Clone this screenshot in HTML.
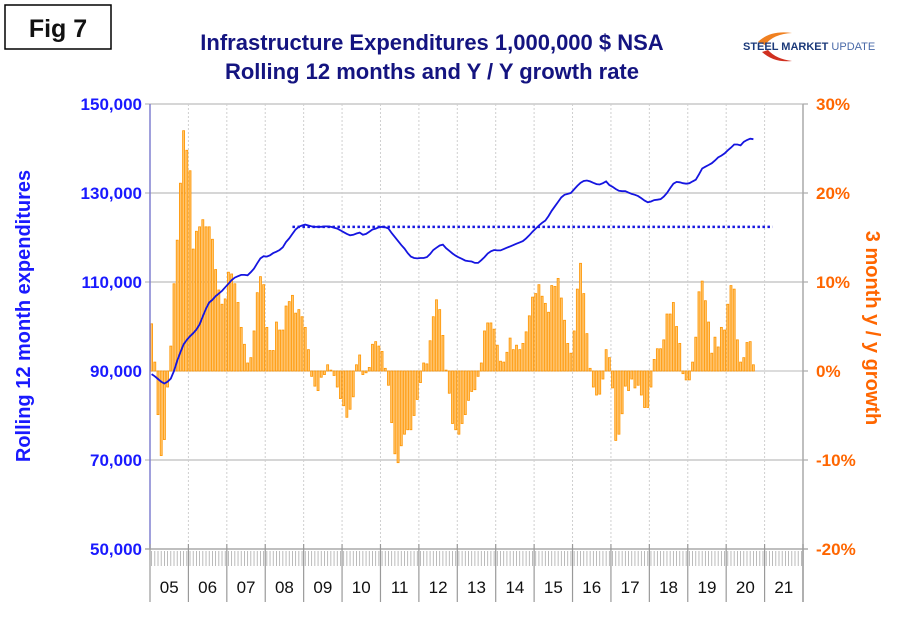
<!DOCTYPE html>
<html><head><meta charset="utf-8"><style>
body{margin:0;background:#fff;}
svg{display:block;font-family:"Liberation Sans",Arial,sans-serif;}
</style></head><body>
<svg id="chart" width="910" height="622" viewBox="0 0 910 622">
<rect x="5" y="5" width="106" height="44" fill="#fff" stroke="#000" stroke-width="1.5"/>
<text x="58" y="37" text-anchor="middle" font-size="25" font-weight="bold" fill="#111">Fig 7</text>
<text x="432" y="50" text-anchor="middle" font-size="22" font-weight="bold" fill="#141480">Infrastructure Expenditures 1,000,000 $ NSA</text>
<text x="432" y="79" text-anchor="middle" font-size="22" font-weight="bold" fill="#141480">Rolling 12 months and Y / Y growth rate</text>
<g>
<path d="M758 42 Q770 30 792 33 Q773 34 765 45 Z" fill="#f08020"/>
<path d="M762 52 Q774 63 792 61 Q776 59 768 50 Z" fill="#d03020"/>
<text x="743" y="50" font-size="11" font-weight="bold" fill="#1c3a7a">STEEL MARKET <tspan font-weight="normal" fill="#4a6aa8">UPDATE</tspan></text>
</g>
<g id="grid"></g>
<g id="bars"></g>
<g id="lines"></g>
<g id="axes"></g>
<text transform="translate(30,316) rotate(-90)" text-anchor="middle" font-size="20" font-weight="bold" fill="#1a1aff">Rolling 12 month expenditures</text>
<text transform="translate(866,328) rotate(90)" text-anchor="middle" font-size="20" font-weight="bold" fill="#ff6600">3 month y / y growth</text>
</svg>
<script>
const yearLabels=["05","06","07","08","09","10","11","12","13","14","15","16","17","18","19","20","21"];
const leftTicks=[50000,70000,90000,110000,130000,150000];
const rightTicks=[-20,-10,0,10,20,30];
const growth=[5.3,1.0,-4.9,-9.5,-7.7,-1.8,2.8,9.8,14.7,21.1,27.0,24.8,22.5,13.7,15.7,16.2,17.0,16.2,16.2,14.8,11.4,9.1,7.5,8.1,11.1,10.9,9.8,7.7,4.9,3.0,0.9,1.5,4.5,8.8,10.6,9.7,4.9,2.3,2.3,5.5,4.6,4.6,7.3,7.8,8.5,6.5,6.9,6.1,4.9,2.4,-0.6,-1.7,-2.2,-0.7,-0.4,0.7,0.1,-0.5,-1.8,-3.1,-3.9,-5.2,-4.3,-2.9,0.7,1.8,-0.4,-0.2,0.4,3.0,3.3,
2.8,2.2,0.3,-1.6,-5.8,-9.3,-10.3,-8.4,-7.1,-6.6,-6.6,-5.0,-3.2,-1.3,0.9,0.8,3.4,6.1,8.0,6.9,4.0,0.1,-2.5,-5.9,-6.6,-7.1,-5.9,-4.9,-3.3,-2.3,-2.1,-0.6,0.9,4.5,5.4,5.4,4.7,2.9,1.1,1.0,2.1,3.7,2.4,2.9,2.4,3.1,4.4,6.2,8.3,8.7,9.7,8.4,7.6,6.6,9.6,9.5,10.4,8.2,5.7,3.1,2.0,4.5,9.2,12.1,8.7,4.2,0.3,-1.8,-2.7,
-2.6,-0.9,2.4,1.5,-1.9,-7.8,-7.1,-4.8,-1.7,-2.2,-0.9,-1.9,-1.6,-2.7,-4.1,-4.1,-1.8,1.3,2.5,2.5,3.5,6.4,6.4,7.7,5.0,3.1,-0.3,-1.0,-1.0,1.0,3.8,8.9,10.1,7.9,5.5,2.0,3.8,2.7,4.9,4.6,7.5,9.6,9.2,3.5,1.0,1.5,3.2,3.3,0.7];
const rolling=[89.3,88.8,88.2,87.6,87.2,87.6,88.3,90.0,92.3,94.2,96.0,97.0,97.8,98.5,99.3,100.5,102.3,104.0,105.4,106.0,106.8,107.4,108.0,108.8,109.6,110.4,111.0,111.3,111.6,111.6,111.5,112.2,113.0,114.2,115.3,115.8,115.7,116.0,116.5,116.8,117.2,117.8,119.0,119.8,120.8,121.8,122.4,122.7,122.9,122.7,122.5,122.4,122.4,122.4,122.5,122.5,122.4,122.2,122.0,121.6,121.2,120.8,120.5,120.6,120.9,121.1,120.6,120.8,121.3,121.8,122.0,
122.3,122.4,122.3,122.0,121.0,120.1,119.2,118.3,117.5,116.5,115.7,115.4,115.3,115.4,115.4,115.6,116.3,117.2,117.7,118.2,118.4,117.6,117.0,116.4,115.9,115.5,115.2,114.8,114.7,114.6,114.3,114.3,114.9,115.6,116.4,116.9,117.2,117.1,117.1,117.4,117.7,118.0,118.3,118.6,118.9,119.2,119.8,120.5,121.3,122.0,122.7,123.3,123.8,124.8,126.0,127.0,128.0,129.0,129.6,129.8,130.0,130.8,131.6,132.3,132.7,132.8,132.6,132.3,132.0,
131.9,132.2,132.6,131.8,131.4,130.9,130.5,130.4,130.4,130.1,129.8,129.6,129.3,128.8,128.3,127.9,128.1,128.4,128.5,128.6,129.2,130.0,131.1,132.1,132.5,132.4,132.2,132.1,132.2,132.6,133.0,134.2,135.5,135.9,136.3,136.7,137.3,138.0,138.4,138.9,139.6,140.2,140.9,140.9,140.7,141.5,141.9,142.2,142.1];
const refLevel=[122.4];
const refRange=[44,194];

const X0=150,X1=803,YT=104,YB=549,NM=yearLabels.length*12;
const xm=i=>X0+(X1-X0)*(i+0.5)/NM;
const xb=i=>X0+(X1-X0)*i/NM;
const yL=v=>YB-(v-50000)/(100000)*(YB-YT);
const yR=p=>YB-(p+20)/50*(YB-YT);
const NS="http://www.w3.org/2000/svg";
function mk(tag,attrs,parent){const e=document.createElementNS(NS,tag);for(const k in attrs)e.setAttribute(k,attrs[k]);parent.appendChild(e);return e;}
const grid=document.getElementById('grid'),bars=document.getElementById('bars'),lines=document.getElementById('lines'),axes=document.getElementById('axes');

leftTicks.forEach((t,k)=>{
  const y=yL(t);
  if(t!==50000&&t!==90000){const g=mk('line',{x1:145,x2:X1,y1:y,y2:y,stroke:'#c8c8c8','stroke-width':1.5},grid);
  
  }
  const tx=mk('text',{x:142,y:y+6,'text-anchor':'end','font-size':17,'font-weight':'bold',fill:'#1a1aff'},axes);
  tx.textContent=t.toLocaleString('en-US');
  
  
});
rightTicks.forEach(p=>{
  const y=yR(p);
  const tk=mk('line',{x1:X1,x2:X1+5,y1:y,y2:y,stroke:'#999'},axes);
  
  
  const tx=mk('text',{x:816,y:y+6,'font-size':17,'font-weight':'bold',fill:'#ff6600'},axes);
  tx.textContent=p+'%';
  
  
});
for(let yr=1;yr<yearLabels.length;yr++){
  const x=xb(yr*12);
  const g=mk('line',{x1:x,x2:x,y1:YT,y2:YB,stroke:'#cfcfcf','stroke-dasharray':'2,2'},grid);
  
  
}
const bw=(X1-X0)/NM*0.62;
growth.forEach((v,i)=>{
  const y0=yR(0),y=yR(v);
  const r=mk('rect',{x:xm(i)-bw/2,y:Math.min(y0,y),width:bw,height:Math.max(0.5,Math.abs(y-y0)),fill:'#ffc670',stroke:'#ff9500','stroke-width':0.8},bars);
  
  
});
const z=mk('line',{x1:X0,x2:X1,y1:yR(0),y2:yR(0),stroke:'#c8c8c8','stroke-width':1.2},grid);


const pts=rolling.map((v,i)=>xm(i).toFixed(1)+','+yL(v*1000).toFixed(1)).join(' ');
const pl=mk('polyline',{points:pts,fill:'none',stroke:'#1515e0','stroke-width':1.8},lines);


const rl=mk('line',{x1:xm(refRange[0]),x2:xm(refRange[1]),y1:yL(refLevel[0]*1000),y2:yL(refLevel[0]*1000),stroke:'#1515e0','stroke-width':2.5,'stroke-dasharray':'2.5,2.5'},lines);


const la=mk('line',{x1:X0,x2:X0,y1:YT,y2:YB,stroke:'#8080d0','stroke-width':1.5},axes);


const ra=mk('line',{x1:X1,x2:X1,y1:YT,y2:602,stroke:'#aaa','stroke-width':1.5},axes);


const ba=mk('line',{x1:145,x2:X1+5,y1:YB,y2:YB,stroke:'#aaa','stroke-width':1.5},axes);


for(let i=0;i<NM;i++){
  const t=mk('line',{x1:xm(i),x2:xm(i),y1:YB+2,y2:566,stroke:'#aaa','stroke-width':0.8},axes);
  
  
}
for(let yr=0;yr<=yearLabels.length;yr++){
  const x=xb(yr*12);
  const t=mk('line',{x1:x,x2:x,y1:544,y2:602,stroke:'#999','stroke-width':1.2},axes);
  
  
}
yearLabels.forEach((l,k)=>{
  const tx=mk('text',{x:xb(k*12+6),y:593,'text-anchor':'middle','font-size':17,fill:'#111'},axes);
  tx.textContent=l;
  
  
});
</script>
</body></html>
